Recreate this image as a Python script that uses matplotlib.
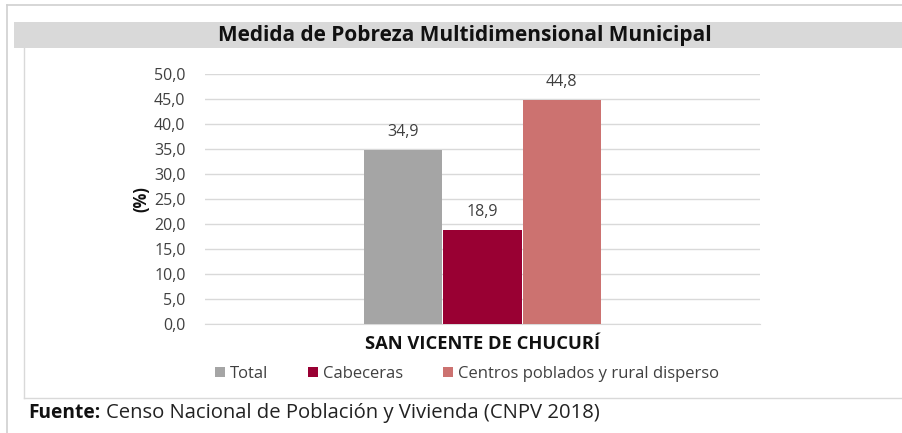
import matplotlib.pyplot as plt
from matplotlib.patches import Rectangle
from matplotlib.lines import Line2D

categories = ['SAN VICENTE DE CHUCURÍ']
series = ['Total', 'Cabeceras', 'Centros poblados y rural disperso']
values = [34.9, 18.9, 44.8]
colors = ['#a5a5a5', '#990033', '#cc7270']
yticks = [0, 5, 10, 15, 20, 25, 30, 35, 40, 45, 50]

W, H = 902, 433
fig = plt.figure(figsize=(W / 100, H / 100), dpi=100)
plt.rcParams['font.family'] = ['Open Sans', 'DejaVu Sans']


def fx(px):
    return px / W


def fy(py):
    return 1 - py / H


# outer frame and chart box
fig.add_artist(Line2D([fx(7), fx(7)], [fy(5), 0], color='#d0d0d0', lw=1.2))
fig.add_artist(Line2D([fx(7), 1], [fy(5), fy(5)], color='#d0d0d0', lw=1.2))
fig.add_artist(Line2D([fx(24), fx(24)], [fy(48), fy(398)], color='#d9d9d9', lw=1))
fig.add_artist(Line2D([fx(24), 1], [fy(398), fy(398)], color='#d9d9d9', lw=1))
fig.add_artist(Rectangle((fx(14), fy(48)), 1 - fx(14), fy(22) - fy(48),
                         facecolor='#d9d9d9', edgecolor='none'))
fig.text(fx(465), fy(36), 'Medida de Pobreza Multidimensional Municipal',
         ha='center', va='center', fontsize=15, fontweight='bold', color='#111111')

ax = fig.add_axes([fx(205), fy(324.3), fx(760) - fx(205), fy(74.3) - fy(324.3)])
width = 0.143
offsets = [-width, 0, width]
for name, v, c, off in zip(series, values, colors, offsets):
    ax.bar(off, v, width=width * 0.99, color=c, label=name, zorder=3)
    ax.text(off, v + 2.0, f'{v:.1f}'.replace('.', ','), ha='center', va='bottom',
            fontsize=11.5, color='#404040')

ax.set_xlim(-0.5, 0.5)
ax.set_ylim(0, 50)
ax.set_yticks(yticks)
ax.set_yticklabels([f'{t:.1f}'.replace('.', ',') for t in yticks], fontsize=11.5, color='#404040')
ax.set_xticks([0])
ax.set_xticklabels(categories, fontsize=13.2, fontweight='bold', color='#111111')
ax.tick_params(axis='both', length=0)
ax.tick_params(axis='y', pad=14)
ax.tick_params(axis='x', pad=8)
ax.grid(axis='y', color='#d9d9d9', lw=1, zorder=0)
for s in ['top', 'right', 'left']:
    ax.spines[s].set_visible(False)
ax.spines['bottom'].set_color('#d9d9d9')
ax.set_ylabel('(%)', fontsize=12, fontweight='bold', color='#111111', labelpad=3)

leg = fig.legend(loc='center', bbox_to_anchor=(fx(467), fy(374)), ncol=3, frameon=False,
                 fontsize=12, handlelength=0.6, handleheight=0.6, handletextpad=0.3,
                 columnspacing=2.4)
for t in leg.get_texts():
    t.set_color('#404040')

fig.text(fx(28), fy(413), 'Fuente:', ha='left', va='center', fontsize=13.8,
         fontweight='bold', color='#111111')
fig.text(fx(106), fy(413), 'Censo Nacional de Población y Vivienda (CNPV 2018)',
         ha='left', va='center', fontsize=14.6, color='#222222')

fig.savefig('out.png', dpi=100)
